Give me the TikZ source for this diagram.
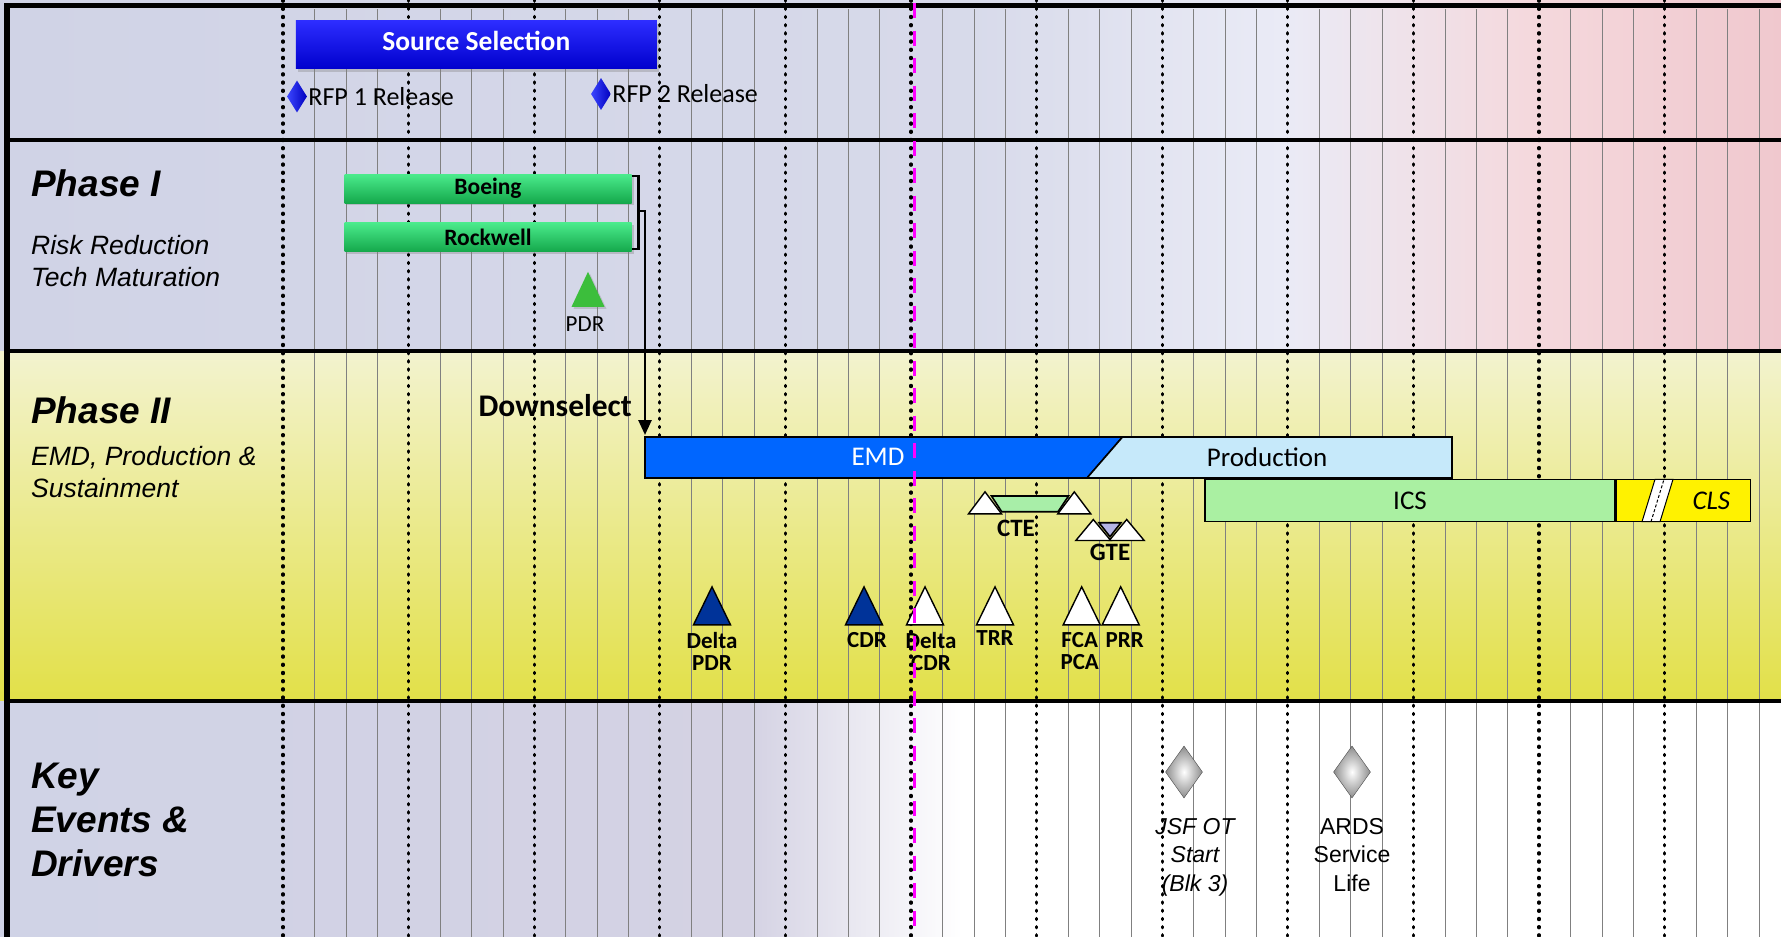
\documentclass[tikz,border=0pt]{standalone}
\usepackage{fontspec}
\setmainfont{Carlito}
\newfontfamily\arialf{Liberation Sans}
\usetikzlibrary{positioning}
\usetikzlibrary{shapes.geometric}
\usetikzlibrary{shadows}
\usetikzlibrary{arrows.meta}

\newcommand{\fsz}[2]{\fontsize{#1}{#2}\selectfont}

\definecolor{lavbg}{RGB}{208,211,230}
\definecolor{lavlt}{RGB}{234,235,246}
\definecolor{pinkbg}{RGB}{240,200,206}
\definecolor{ylwtop}{RGB}{243,243,207}
\definecolor{ylwmid}{RGB}{238,238,172}
\definecolor{ylwbot}{RGB}{226,224,72}
\definecolor{ssblueA}{RGB}{45,45,255}
\definecolor{ssblueB}{RGB}{0,0,205}
\definecolor{rfpA}{RGB}{60,70,255}
\definecolor{rfpB}{RGB}{0,0,190}
\definecolor{grnA}{RGB}{75,235,140}
\definecolor{grnB}{RGB}{20,168,75}
\definecolor{pdrgrn}{RGB}{60,190,60}
\definecolor{emdblue}{RGB}{0,102,255}
\definecolor{prodblue}{RGB}{198,233,250}
\definecolor{icsgreen}{RGB}{170,240,162}
\definecolor{ctegreen}{RGB}{168,238,168}
\definecolor{gtelav}{RGB}{180,180,228}
\definecolor{msblue}{RGB}{0,51,153}
\definecolor{magline}{RGB}{255,0,255}

\pgfdeclarehorizontalshading{upperrows}{100bp}{color(0bp)=(lavbg); color(25bp)=(lavbg); color(52bp)=(lavbg!85!white); color(61bp)=(lavlt); color(68bp)=(pinkbg!70!white); color(75bp)=(pinkbg); color(100bp)=(pinkbg)}
\pgfdeclarehorizontalshading{lowerrow}{100bp}{color(0bp)=(lavbg); color(25bp)=(lavbg); color(46bp)=(lavbg!88!pinkbg); color(52bp)=(white); color(75bp)=(white); color(100bp)=(white)}

\begin{document}
\begin{tikzpicture}[x=1pt,y=-1pt,
        ssbar/.style={rectangle,minimum width=361pt,minimum height=48pt,text depth=7pt,top color=ssblueA,bottom color=ssblueB,text=white,font=\bfseries\fsz{27.5}{32},drop shadow={opacity=0.35,shadow xshift=2pt,shadow yshift=-3pt}},
        rfp/.style={diamond,minimum width=20pt,minimum height=32pt,inner sep=0pt,left color=rfpA,right color=rfpB},
        lbl/.style={inner sep=1pt,font=\fsz{26}{30}},
        gbar/.style={rectangle,minimum width=287pt,minimum height=29pt,inner sep=0pt,top color=grnA,bottom color=grnB,font=\bfseries\fsz{23.5}{28},drop shadow={opacity=0.35,shadow xshift=2pt,shadow yshift=-2pt}},
        phase/.style={anchor=west,inner sep=0pt,align=left,font=\arialf\bfseries\itshape\fsz{37}{44}},
        phasesub/.style={anchor=west,inner sep=0pt,align=left,font=\arialf\itshape\fsz{26.5}{32}},
        barline/.style={draw=black,line width=1.6pt},
        bartxt/.style={inner sep=0pt,font=\fsz{27}{32}},
        mtri/.style={isosceles triangle,shape border rotate=90,isosceles triangle stretches=true,minimum width=37pt,minimum height=38pt,inner sep=0pt,draw=black,line width=1.4pt,anchor=apex},
        stri/.style={mtri,fill=white,minimum width=33pt,minimum height=22pt},
        mlbl/.style={inner sep=0pt,align=center,font=\bfseries\fsz{23}{22}},
        gdia/.style={diamond,minimum width=37pt,minimum height=52pt,inner sep=0pt,draw=black!70,inner color=white,outer color=black!45},
        evlbl/.style={inner sep=0pt,align=center,font=\arialf\fsz{23}{28.5}},
        minor/.style={black!50,line width=0.55pt},
        major/.style={line width=3.2pt,line cap=round,dash pattern=on 1.2pt off 7pt},
        rowline/.style={line width=3.4pt},
        brk/.style={line width=2.6pt},
        arr/.style={line width=2.6pt,-{Triangle[length=15pt,width=13pt]}},
        magdash/.style={magline,line width=3pt,dash pattern=on 15pt off 12.5pt}
        ]
        \useasboundingbox (0,0) rectangle (1781,937);
        \shade[shading=upperrows] (0,0) rectangle (1781,351);
        \shade[top color=ylwtop,middle color=ylwmid,bottom color=ylwbot] (0,351) rectangle (1781,701);
        \shade[shading=lowerrow] (0,701) rectangle (1781,937);

        \foreach \k in {0,...,11} {
            \foreach \j in {1,2,3}
                \draw[minor] ({283+125.6*\k+31.4*\j},9) -- ++(0,928);
            \draw[major] ({283+125.6*\k},0) -- ++(0,937);
        }

        \draw[line width=5pt] (4,5.8) -- (1781,5.8);
        \draw[line width=6pt] (7,3) -- (7,937);
        \draw[rowline] (7,140) -- (1781,140);
        \draw[rowline] (7,351) -- (1781,351);
        \draw[rowline] (7,701) -- (1781,701);

        \node (srcsel) [ssbar] at (476.3,44.8) {Source Selection};
        \node (rfp1) [rfp] at (297,96.5) {};
        \node (rfp1txt) [lbl,right=0pt of rfp1] {RFP 1 Release};
        \node (rfp2) [rfp] at (601,94) {};
        \node (rfp2txt) [lbl,right=0pt of rfp2] {RFP 2 Release};

        \node (ph1) [phase] at (31,183) {Phase I};
        \node (ph1sub) [phasesub] at (31,261) {Risk Reduction\\Tech Maturation};
        \node (boeing) [gbar] at (488,188.7) {Boeing};
        \node (rockwell) [gbar,below=19pt of boeing] {Rockwell};
        \draw[brk] ([yshift=-2pt]boeing.north east) -- ++(7,0) |- ([yshift=3pt]rockwell.south east);
        \node (pdr1) [mtri,fill=pdrgrn,draw=none,minimum width=33pt,minimum height=35pt,drop shadow={opacity=0.3,shadow xshift=2pt,shadow yshift=-2pt}] at (588,270) {};
        \node (pdr1txt) [inner sep=0pt,font=\fsz{23}{27},below=9pt of pdr1,xshift=-3pt] {PDR};

        \node (ph2) [phase] at (31,410) {Phase II};
        \node (ph2sub) [phasesub] at (31,472) {EMD, Production \&\\Sustainment};
        \node (downsel) [inner sep=0pt,anchor=east,font=\bfseries\fsz{31.5}{36}] at (632,406) {Downselect};
        \coordinate (brkmid) at (638,211);
        \coordinate (emdtl) at (645,437);
        \draw[arr] (brkmid) -| ([yshift=2pt]emdtl);
        \draw[barline,fill=emdblue] (emdtl) -- (1122.5,437) -- (1087,478) -- (645,478) -- cycle;
        \draw[barline,fill=prodblue] (1122.5,437) -- (1452,437) -- (1452,478) -- (1087,478) -- cycle;
        \node (emd) [bartxt,text=white] at (878,457) {EMD};
        \node (prod) [bartxt] at (1267,457) {Production};
        \node (ics) [rectangle,barline,fill=icsgreen,minimum width=410pt,minimum height=42pt,bartxt] at (1410,500.5) {ICS};
        \node (cls) [rectangle,barline,fill=yellow,minimum width=134pt,minimum height=42pt,anchor=west] at (ics.east) {};
        \filldraw[fill=white,draw=black,line width=1pt] (1642,521.7) -- (1660,521.7) -- (1673,479.3) -- (1655,479.3) -- cycle;
        \draw[line width=1pt,densely dashed] (1651,521.7) -- (1664,479.3);
        \node (clstxt) [bartxt,font=\itshape\fsz{27}{32},left=21pt of cls.east] {CLS};

        \draw[barline,fill=ctegreen] (991.5,496) -- (1068.5,496) -- (1058,511.7) -- (1001.7,511.7) -- cycle;
        \node (cte1) [stri] at (985,490) {};
        \node (cte2) [stri] at (1074.3,490) {};
        \node (ctetxt) [mlbl,font=\bfseries\fsz{25}{28}] at (1016,528) {CTE};
        \draw[barline,fill=gtelav] (1099,522.7) -- (1121,522.7) -- (1110,536.7) -- cycle;
        \node (gte1) [stri,minimum width=35pt,minimum height=21pt] at (1093.3,517.7) {};
        \node (gte2) [stri,minimum width=35pt,minimum height=21pt] at (1126.7,517.7) {};
        \node (gtetxt) [mlbl,font=\bfseries\fsz{25}{28}] at (1110,552) {GTE};

        \node (dpdr) [mtri,fill=msblue] at (712,585) {};
        \node (dpdrtxt) [mlbl,below=7pt of dpdr] {Delta\\PDR};
        \node (cdr) [mtri,fill=msblue] at (864,585) {};
        \node (cdrtxt) [mlbl,below=7pt of cdr,xshift=3pt] {CDR};
        \node (dcdr) [mtri,fill=white] at (925,585) {};
        \node (dcdrtxt) [mlbl,below=7pt of dcdr,xshift=6pt] {Delta\\CDR};
        \node (trr) [mtri,fill=white] at (995,585) {};
        \node (trrtxt) [mlbl,below=5pt of trr] {TRR};
        \node (fca) [mtri,fill=white] at (1081.7,585) {};
        \node (fcatxt) [mlbl,below=7pt of fca,xshift=-2pt] {FCA\\PCA};
        \node (prr) [mtri,fill=white] at (1120.7,585) {};
        \node (prrtxt) [mlbl,below=7pt of prr,xshift=4pt] {PRR};

        \node (keyev) [phase,font=\arialf\bfseries\itshape\fsz{37}{44}] at (31,820) {Key\\Events \&\\Drivers};
        \node (jsf) [gdia] at (1184,772) {};
        \node (jsftxt) [evlbl,font=\arialf\itshape\fsz{23}{28.5},below=20pt of jsf,xshift=11pt] {JSF OT\\Start\\(Blk 3)};
        \node (ards) [gdia] at (1352,772) {};
        \node (ardstxt) [evlbl,below=20pt of ards] {ARDS\\Service\\Life};

        \draw[magdash] (914.5,3) -- (914.5,937);
    \end{tikzpicture}
\end{document}
